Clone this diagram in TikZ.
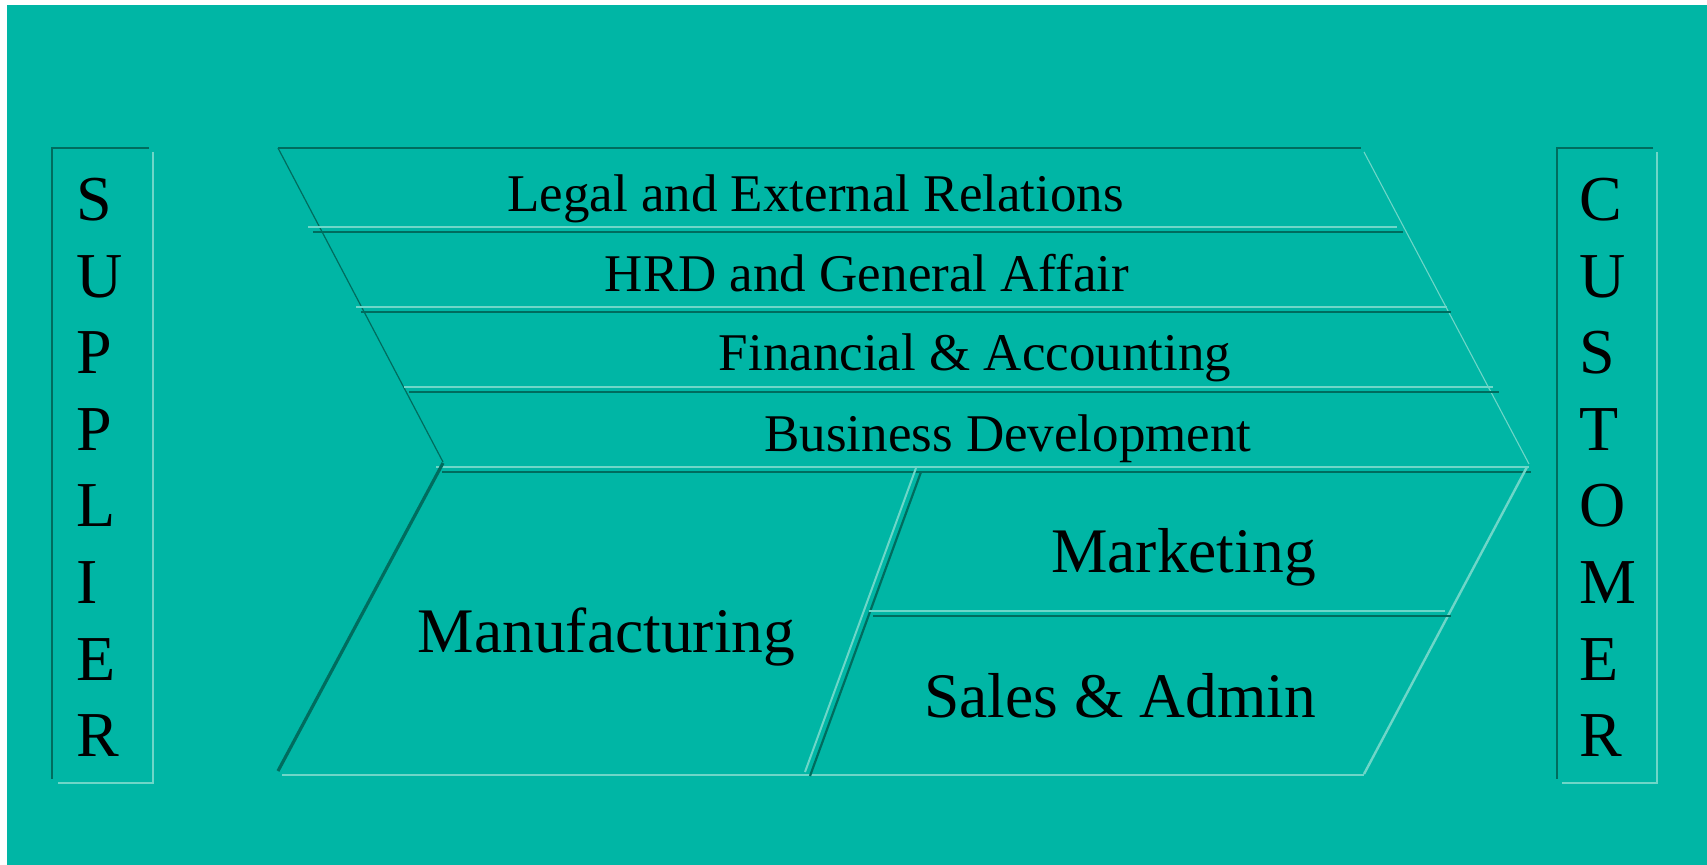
\documentclass[tikz,border=0pt]{standalone}
\usepackage{fontspec}
\setmainfont{Liberation Serif}
\definecolor{bg}{RGB}{0,182,165}
\definecolor{dk}{RGB}{0,108,94}
\definecolor{lt}{RGB}{110,214,200}
\begin{document}
\begin{tikzpicture}[x=0.5pt,y=-0.5pt,
  dkl/.style={draw=dk, line width=1.1pt},
  ltl/.style={draw=lt, line width=1pt},
  dkthin/.style={draw=dk, line width=0.6pt},
  ltthin/.style={draw=lt, line width=0.55pt},
  bandtxt/.style={anchor=base, inner sep=0pt, font=\fontsize{26.5}{30}\selectfont},
  bigtxt/.style={anchor=base, inner sep=0pt, font=\fontsize{31.75}{36}\selectfont},
  lettxt/.style={anchor=base west, inner sep=0pt, font=\fontsize{32}{36}\selectfont}]
\useasboundingbox (0,0) rectangle (1707,865);
\fill[white] (0,0) rectangle (1707,865);
\fill[bg] (7,5) rectangle (1707,865);

% Supplier box
\draw[dkl] (149,148) -- (52,148) -- (52,779);
\draw[ltl] (153,152) -- (153,783) -- (58,783);
% Customer box
\draw[dkl] (1653,148) -- (1557,148) -- (1557,779);
\draw[ltl] (1657,152) -- (1657,783) -- (1562,783);

\foreach \c [count=\i from 0] in {S,U,P,P,L,I,E,R}
  \node[lettxt] (sup\i) at (76,221+76.5*\i) {\c};
\foreach \c [count=\i from 0] in {C,U,S,T,O,M,E,R}
  \node[lettxt] (cus\i) at (1579,221+76.5*\i) {\c};

% Chevron upper band
\draw[dkl] (278,148) -- (1361,148);
\draw[dkthin] (278,148) -- (443,462);
\draw[ltthin] (1364,152) -- (1529,464);
% separators
\draw[ltl] (308,227) -- (1397,227);
\draw[dkl] (313,232) -- (1403,232);
\draw[ltl] (356,307) -- (1447,307);
\draw[dkl] (361,312) -- (1451,312);
\draw[ltl] (404,387) -- (1493,387);
\draw[dkl] (409,392) -- (1499,392);
\draw[ltl] (436,467) -- (1529,467);
\draw[dkl] (442,472) -- (1531,472);

% Lower part
\draw[draw=dk, line width=1.6pt] (443,463) -- (278,771);
\draw[draw=lt, line width=1.2pt] (1527,467) -- (1364,774);
\draw[ltl] (282,775) -- (1364,775);
\draw[ltl] (916,468) -- (805,772);
\draw[dkl] (921,472) -- (810,776);
\draw[ltl] (869,611) -- (1445,611);
\draw[dkl] (873,616) -- (1451,616);

% Texts
\node[bandtxt] (legal) at (815.5,212) {Legal and External Relations};
\node[bandtxt] (hrd) at (867,292) {HRD and General Affair};
\node[bandtxt] (fin) at (975,371) {Financial \& Accounting};
\node[bandtxt] (bus) at (1008,452) {Business Development};
\node[bigtxt] (manu) at (606.5,652) {Manufacturing};
\node[bigtxt] (mkt) at (1183.5,573) {Marketing};
\node[bigtxt] (sales) at (1120,717) {Sales \& Admin};
\end{tikzpicture}
\end{document}
